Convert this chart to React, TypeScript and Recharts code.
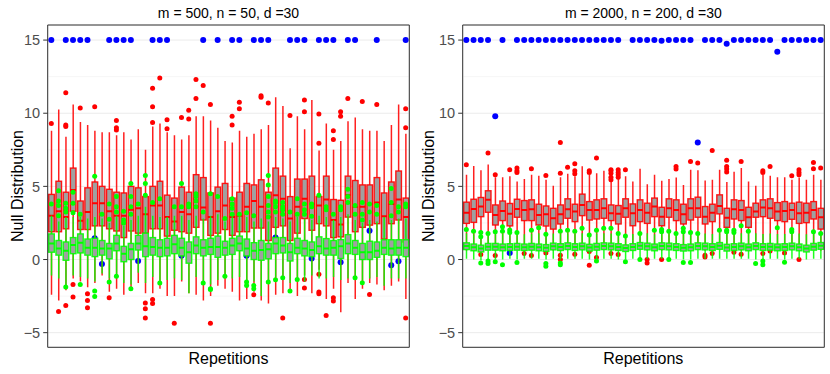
import React from 'react';
import { ComposedChart, Bar, Scatter, XAxis, YAxis, CartesianGrid, ReferenceArea } from 'recharts';

const REPS = [
  1, 2, 3, 4, 5, 6, 7, 8, 9, 10, 11, 12, 13, 14, 15, 16, 17, 18, 19, 20, 21, 22, 23, 24, 25,
  26, 27, 28, 29, 30, 31, 32, 33, 34, 35, 36, 37, 38, 39, 40, 41, 42, 43, 44, 45, 46, 47, 48, 49, 50,
];
const Y_TICKS = [-5, 0, 5, 10, 15];
const Y_MINOR = [-2.5, 2.5, 7.5, 12.5];
const Y_DOMAIN: [number, number] = [-6, 16.03];

// ---- left panel: m = 500, n = 50 ----
const L_RED_LO = [-2.4, -2.8, -2.1, -1.3, -1.5, -1.9, -1.6, -1.1, -2.2, -2.0, -2.4, -2.0, -1.6, -2.3, -2.3, -2.0, -2.5, -2.5, -1.5, -2.3, -2.4, -2.8, -2.5, -1.8, -2.0, -2.2, -2.8, -2.7, -2.2, -2.8, -3.0, -2.4, -2.3, -2.2, -2.5, -1.1, -2.3, -0.7, -2.7, -2.0, -3.6, -1.6, -2.7, -2.0, -1.6, -1.7, -2.1, -1.8, -1.5, -2.7];
const L_RED_Q1 = [1.9, 1.9, 2.1, 3.3, 2.05, 2.05, 2.3, 2.3, 2.1, 1.95, 1.5, 1.95, 1.8, 1.8, 2.1, 2.1, 1.6, 2.0, 1.9, 1.8, 2.2, 2.7, 1.65, 1.8, 2.05, 1.65, 1.9, 1.9, 2.15, 2.15, 1.3, 2.2, 2.3, 1.3, 1.8, 2.8, 2.0, 2.45, 2.3, 1.5, 1.55, 2.9, 1.9, 2.2, 2.35, 2.45, 1.4, 2.45, 2.7, 1.2];
const L_RED_MED = [3.0, 3.3, 2.9, 4.75, 2.65, 3.25, 3.85, 3.85, 3.3, 3.0, 3.0, 3.4, 3.5, 3.1, 3.7, 3.7, 2.9, 2.6, 3.25, 3.1, 3.6, 3.55, 2.9, 3.3, 3.7, 2.9, 3.0, 3.6, 4.0, 3.6, 2.9, 4.4, 4.15, 2.8, 3.6, 4.15, 3.8, 3.7, 4.1, 2.7, 2.4, 4.4, 3.6, 3.6, 3.8, 3.9, 2.95, 3.8, 4.1, 2.9];
const L_RED_Q3 = [4.45, 5.35, 4.6, 6.25, 4.0, 4.9, 5.3, 5.0, 4.8, 4.6, 4.55, 5.0, 4.9, 4.3, 5.0, 5.35, 4.4, 4.2, 4.95, 4.6, 5.8, 5.6, 4.55, 4.95, 5.2, 4.2, 4.6, 5.2, 5.1, 5.45, 4.6, 6.25, 5.7, 4.3, 5.5, 5.5, 5.7, 4.3, 5.7, 4.1, 4.05, 5.7, 5.4, 5.1, 5.1, 5.6, 4.55, 5.3, 6.05, 4.2];
const L_RED_HI = [8.8, 10.25, 8.4, 10.6, 9.4, 9.2, 8.8, 8.7, 8.7, 8.5, 8.7, 8.2, 8.9, 7.5, 9.1, 9.3, 8.7, 8.5, 8.2, 8.5, 9.8, 9.8, 9.5, 9.0, 8.1, 8.0, 8.8, 8.4, 8.6, 8.9, 9.2, 11.1, 10.5, 7.6, 9.8, 8.9, 10.9, 7.45, 9.3, 7.5, 8.1, 9.45, 9.7, 8.9, 8.8, 8.8, 8.1, 9.2, 10.6, 8.6];

const L_GRN_LO = [-1.1, -1.3, -1.75, -1.1, -1.2, -1.3, -1.5, -0.95, -1.3, -1.0, -1.6, -1.7, -0.9, -1.6, -1.2, -1.5, -1.4, -1.3, -1.4, -2.3, -1.2, -1.5, -1.7, -1.4, -1.0, -1.3, -1.2, -1.4, -1.5, -2.5, -1.4, -1.2, -1.1, -1.6, -1.2, -1.5, -1.1, -1.3, -1.3, -1.2, -1.4, -1.3, -1.1, -1.4, -1.3, -1.2, -1.8, -1.3, -1.3, -1.3];
const L_GRN_Q1 = [0.5, 0.3, -0.05, 0.4, 0.45, 0.3, 0.2, 0.3, 0.05, 0.6, -0.15, 0.0, 0.65, 0.2, 0.3, 0.2, 0.25, 0.4, 0.25, -0.25, 0.4, 0.25, 0.35, 0.15, 0.3, 0.35, 0.6, 0.25, 0.0, -0.05, 0.05, 0.4, 0.45, -0.1, 0.4, 0.25, 0.2, 0.4, 0.3, 0.3, 0.07, 0.4, 0.35, 0.0, 0.0, 0.15, 0.35, 0.3, 0.3, 0.2];
const L_GRN_MED = [1.1, 0.75, 0.6, 1.0, 1.15, 0.8, 0.8, 0.75, 0.75, 1.1, 0.4, 0.7, 1.1, 0.9, 0.85, 0.8, 0.8, 1.05, 0.8, 0.5, 0.95, 0.8, 0.85, 0.85, 0.8, 0.95, 1.1, 0.75, 0.6, 0.65, 0.7, 1.1, 0.95, 0.5, 0.8, 0.75, 0.65, 0.9, 0.75, 0.8, 0.9, 1.1, 0.8, 0.5, 0.5, 0.6, 0.8, 0.75, 0.8, 0.8];
const L_GRN_Q3 = [1.75, 1.3, 1.2, 1.5, 1.75, 1.4, 1.45, 1.3, 1.1, 1.65, 0.9, 1.1, 1.65, 1.8, 1.5, 1.35, 1.45, 1.65, 1.45, 1.2, 1.55, 1.35, 1.45, 1.6, 1.25, 1.45, 1.6, 1.4, 1.15, 1.3, 1.1, 1.5, 1.5, 1.1, 1.45, 1.3, 1.2, 1.55, 1.43, 1.3, 1.36, 1.7, 1.3, 1.1, 1.25, 1.2, 1.35, 1.35, 1.35, 1.35];
const L_GRN_HI = [3.0, 2.6, 2.9, 2.9, 2.9, 2.8, 2.9, 2.8, 2.5, 3.0, 2.3, 2.7, 3.0, 3.6, 3.0, 2.9, 2.9, 3.0, 3.0, 2.7, 3.0, 2.8, 3.0, 3.1, 2.6, 2.9, 2.9, 2.9, 2.6, 2.8, 2.6, 2.9, 2.8, 2.6, 2.9, 2.8, 2.7, 3.0, 2.9, 2.7, 2.9, 3.1, 2.7, 2.5, 2.7, 2.6, 2.9, 2.7, 2.8, 2.8];

const L_BLUE = [15, null, 15, 15, 15, 15, 1.45, -0.3, 15, 15, 15, 15, -0.1, null, 15, 15, 15, null, 0.25, null, 2.5, 15, null, 15, null, 15, 15, 0.25, 15, 15, 15, 1.5, null, 15, 15, 15, 0.07, 15, 15, 15, -0.18, 15, 15, 0.18, 1.97, 15, null, -0.4, -0.12, 15];

// [repetition, value]
const L_RED_OUT = [
  [1, 9.3], [2, -3.56], [3, 11.4], [3, 9.2], [3, 9.1], [3, -3.14], [4, -1.7], [4, -2.57], [5, 10.35],
  [6, -2.34], [6, -2.8], [6, -3.3], [7, 10.45], [9, -2.62], [10, 9.5], [10, 9.0], [10, 8.85],
  [14, -2.98], [14, -3.37], [14, -4.0], [15, 11.7], [15, 10.45], [15, 9.36], [15, -2.73], [15, -3.0],
  [16, 12.4], [17, 9.56], [17, 8.93], [18, -4.35], [19, 9.7], [20, 10.2], [20, 9.6], [21, 12.3], [21, 11.0],
  [22, 11.9], [23, 10.6], [23, -4.35], [26, 9.8], [26, 9.2], [27, 10.75], [27, 10.3], [29, -2.41],
  [30, 11.2], [30, 11.1], [31, 10.7], [33, -3.99], [34, 9.85], [36, 10.9], [36, 10.1], [36, -1.36], [36, -1.95],
  [38, 9.95], [38, 7.95], [38, -1.0], [38, -2.22], [38, -2.34], [39, -3.83], [40, 8.8], [40, 8.2], [40, -2.62],
  [40, -2.84], [41, 10.1], [41, 9.8], [42, 11.0], [44, 10.8], [45, -2.39], [46, 10.6], [50, 10.3], [50, 9.0], [50, -3.99],
];
const L_GRN_OUT = [
  [1, 3.8], [2, 4.7], [2, 4.0], [2, 3.7], [2, 3.0], [3, 3.85], [3, 3.5], [3, 3.25], [3, -1.88], [4, 4.6], [4, 3.85], [4, 3.2],
  [5, 3.1], [5, -1.7], [7, 5.7], [7, -2.16], [7, -2.52], [8, 3.1], [9, 3.8], [9, 2.75], [9, -1.54],
  [10, 4.3], [10, 3.6], [10, 3.25], [10, -1.15], [11, 3.3], [11, 2.7], [11, 2.5], [12, 5.2], [12, 4.3], [12, 3.6], [12, 3.1], [12, -1.99],
  [13, 3.8], [14, 5.75], [14, 5.2], [14, 4.4], [15, 3.9], [16, 4.15], [16, -1.6], [18, 3.6], [19, 5.2], [19, 3.6],
  [20, 3.8], [20, 3.6], [21, 4.5], [21, 4.3], [21, 4.0], [21, 3.6], [22, 3.25], [22, -1.6], [23, 4.5], [23, -1.99], [23, -2.05],
  [24, 4.3], [25, 2.8], [25, -1.15], [26, 4.15], [26, 3.8], [26, 3.5], [26, 3.1], [27, 3.1], [28, 3.2], [28, -1.54], [28, -1.77],
  [29, 3.0], [29, -1.77], [29, -2.0], [31, 5.75], [31, 5.1], [31, 4.3], [31, 3.7], [31, 3.25], [31, 2.9], [31, -1.54],
  [32, 4.0], [32, 3.9], [32, 3.6], [32, 3.25], [32, -1.38], [33, 3.9], [33, 3.6], [33, 3.4], [33, 3.1], [33, -1.24],
  [34, 3.25], [34, -2.16], [35, 4.15], [35, 3.1], [35, -1.36], [36, 3.8], [36, 3.4], [36, 3.1], [37, 3.8], [37, 3.6], [37, 2.95],
  [38, 4.4], [39, 3.6], [39, 3.4], [40, 3.1], [41, 3.6], [41, 3.4], [42, 4.8], [42, 4.3], [42, 3.9], [43, 3.7], [43, 3.1], [43, -1.24],
  [44, 3.9], [44, 3.1], [44, 2.7], [44, -1.58], [45, 3.8], [45, 3.25], [46, 3.7], [46, 3.1], [48, 4.85], [48, 3.9], [48, 3.0],
  [49, 3.6], [49, 3.25], [50, 3.8], [50, 3.6],
];

// ---- right panel: m = 2000, n = 200 ----
const R_RED_LO = [0.6, 0.7, 0.6, 0.8, 0.6, 0.7, 0.6, 0.7, 0.7, 0.6, 0.7, 0.7, 0.6, 0.6, 0.8, 0.6, 0.8, 0.7, 0.6, 0.8, 0.6, 0.6, 0.8, 0.6, 0.7, 0.6, 0.8, 0.6, 0.8, 0.7, 0.6, 0.7, 0.8, 0.6, 0.6, 0.9, 0.6, 0.7, 0.6, 0.6, 0.8, 0.8, 0.7, 0.7, 0.7, 0.7, 0.6, 0.7, 0.7, 0.6];
const R_RED_Q1 = [2.47, 2.54, 2.93, 3.23, 2.36, 2.66, 2.3, 2.89, 2.66, 2.66, 2.36, 2.29, 2.08, 2.43, 2.82, 2.59, 3.0, 2.7, 2.77, 2.82, 2.66, 2.43, 2.89, 2.31, 2.59, 2.47, 2.93, 2.31, 2.89, 2.66, 2.43, 2.7, 2.89, 2.43, 2.59, 3.12, 2.2, 2.77, 2.66, 2.2, 2.89, 2.93, 2.82, 2.66, 2.59, 2.75, 2.47, 2.52, 2.77, 2.08];
const R_RED_MED = [3.2, 3.46, 3.62, 4.08, 3.05, 3.32, 3.12, 3.46, 3.39, 3.44, 3.05, 3.1, 2.82, 3.1, 3.44, 3.28, 3.73, 3.39, 3.39, 3.5, 3.16, 3.12, 3.5, 3.16, 3.39, 3.2, 3.62, 2.93, 3.5, 3.39, 3.1, 3.5, 3.5, 2.93, 3.2, 3.66, 2.86, 3.44, 3.39, 2.89, 3.28, 3.55, 3.5, 3.28, 3.32, 3.39, 3.16, 3.2, 3.39, 2.89];
const R_RED_Q3 = [3.92, 4.12, 4.24, 4.7, 3.73, 4.0, 3.83, 4.12, 4.03, 4.08, 3.78, 3.66, 3.5, 3.73, 4.15, 3.78, 4.47, 3.96, 4.08, 4.15, 3.73, 3.69, 4.15, 3.8, 4.08, 3.85, 4.2, 3.57, 4.15, 4.08, 3.78, 4.15, 4.26, 3.62, 3.78, 4.42, 3.5, 4.08, 4.03, 3.57, 3.85, 4.08, 4.15, 3.89, 3.96, 3.85, 3.92, 3.85, 3.96, 3.5];
const R_RED_HI = [5.8, 6.4, 6.1, 6.5, 5.63, 5.63, 5.7, 5.34, 5.5, 5.8, 5.73, 5.45, 5.04, 5.63, 5.86, 5.7, 6.37, 5.8, 5.9, 6.07, 5.3, 5.5, 5.7, 5.34, 6.2, 5.15, 5.8, 5.38, 5.5, 5.6, 5.1, 6.14, 6.1, 5.4, 5.45, 6.14, 5.3, 6.0, 6.25, 5.34, 5.04, 5.8, 5.73, 5.63, 5.63, 5.45, 5.6, 5.45, 5.8, 5.45];

const R_GRN_LO = [0.05, 0.0, -0.05, 0.0, 0.0, 0.0, 0.05, 0.0, 0.05, 0.05, 0.05, 0.0, 0.05, 0.0, 0.05, 0.05, 0.05, 0.0, 0.0, 0.05, 0.05, 0.0, 0.0, 0.05, 0.05, 0.05, 0.05, 0.05, 0.05, 0.05, 0.0, 0.0, 0.05, 0.05, 0.05, 0.05, 0.05, 0.05, 0.05, 0.05, 0.0, 0.0, 0.05, 0.05, 0.0, 0.05, 0.05, 0.0, 0.05, 0.05];
const R_GRN_Q1 = [0.68, 0.6, 0.52, 0.64, 0.64, 0.6, 0.62, 0.64, 0.62, 0.64, 0.6, 0.56, 0.66, 0.62, 0.68, 0.62, 0.66, 0.58, 0.64, 0.68, 0.66, 0.62, 0.55, 0.62, 0.7, 0.66, 0.6, 0.68, 0.66, 0.62, 0.58, 0.6, 0.68, 0.66, 0.62, 0.7, 0.58, 0.62, 0.66, 0.6, 0.68, 0.62, 0.64, 0.6, 0.62, 0.66, 0.6, 0.52, 0.64, 0.7];
const R_GRN_MED = [0.92, 0.84, 0.76, 0.88, 0.88, 0.84, 0.86, 0.88, 0.84, 0.88, 0.84, 0.8, 0.9, 0.86, 0.92, 0.86, 0.9, 0.82, 0.88, 0.92, 0.9, 0.86, 0.78, 0.86, 0.94, 0.9, 0.84, 0.92, 0.9, 0.86, 0.8, 0.84, 0.92, 0.9, 0.86, 0.94, 0.82, 0.86, 0.9, 0.84, 0.92, 0.86, 0.88, 0.84, 0.86, 0.9, 0.84, 0.76, 0.88, 0.94];
const R_GRN_Q3 = [1.14, 1.06, 0.98, 1.1, 1.1, 1.06, 1.08, 1.1, 1.06, 1.1, 1.06, 1.02, 1.12, 1.08, 1.14, 1.08, 1.12, 1.04, 1.1, 1.14, 1.12, 1.08, 1.0, 1.08, 1.16, 1.12, 1.06, 1.14, 1.12, 1.08, 1.02, 1.06, 1.14, 1.12, 1.08, 1.16, 1.04, 1.08, 1.12, 1.06, 1.14, 1.08, 1.1, 1.06, 1.08, 1.12, 1.06, 0.98, 1.1, 1.16];
const R_GRN_HI = [1.8, 1.72, 1.5, 1.72, 1.75, 1.75, 1.75, 1.75, 1.72, 1.78, 1.8, 1.65, 1.78, 1.75, 1.8, 1.75, 1.8, 1.62, 1.78, 1.8, 1.78, 1.72, 1.55, 1.75, 1.72, 1.8, 1.72, 1.8, 1.8, 1.72, 1.8, 1.78, 1.72, 1.78, 1.75, 1.8, 1.78, 1.78, 1.8, 1.8, 1.8, 1.75, 1.78, 1.75, 1.75, 1.8, 1.78, 1.72, 1.8, 1.72];

const R_BLUE = [15, 15, 15, 15, 9.8, 15, 0.45, 15, 15, 15, 15, 15, 15, 15, 15, 15, 15, 15, 15, 15, 15, 15, null, 15, 15, 15, 15, 14.95, 15, 15, 15, 15, 8.0, 15, 15, 15, 14.75, 15, 15, 15, 15, 15, 15, 14.2, 15, 15, 15, 15, 15, 15];

const R_RED_OUT = [
  [1, 6.48], [3, 0.34], [4, 7.28], [5, 5.8], [5, 0.27], [7, 6.14], [8, 6.25], [8, 6.07], [8, 5.95], [9, 0.41],
  [10, 6.2], [10, 0.27], [12, 5.75], [12, 0.45], [14, 8.0], [14, 5.9], [14, 0.3], [14, 0.0], [15, 6.3],
  [16, 6.55], [16, 6.07], [16, 5.86], [16, 0.36], [18, 6.07], [18, 5.95], [18, 0.55], [18, -0.39], [19, 6.94], [19, 0.13],
  [21, 6.14], [21, 6.07], [21, 5.9], [21, 5.63], [21, 5.45], [21, 0.41], [22, 6.14], [22, 5.95], [22, 5.8], [22, 5.63], [22, 0.34],
  [23, 6.14], [26, 0.0], [26, -0.23], [28, 0.0], [30, 6.36], [30, 6.18], [32, 6.7], [33, 6.6], [34, 0.3], [34, 0.18],
  [35, 7.45], [35, 0.41], [37, 6.78], [37, 6.36], [37, 6.18], [37, 5.98], [38, 0.5], [39, 6.7], [39, 0.36],
  [42, 6.07], [42, 5.95], [42, 0.41], [43, 6.36], [43, 0.59], [45, 0.45], [46, 5.72], [47, 6.14], [47, 5.95], [47, 5.8], [47, 0.0],
  [49, 6.64], [49, 6.2], [50, 6.25],
];
const R_GRN_OUT = [
  [1, 2.06], [2, 1.94], [3, 1.85], [3, 1.56], [4, 1.78], [5, 1.9], [6, 2.24], [6, 1.94], [7, 2.01], [7, 1.85], [8, 1.85],
  [10, 2.0], [11, 2.17], [12, 1.72], [14, 1.94], [15, 2.0], [16, 1.94], [17, 2.13], [18, 1.67], [19, 2.0], [20, 2.13],
  [21, 2.13], [22, 1.78], [23, 1.6], [25, 1.78], [27, 2.0], [28, 2.06], [28, 1.9], [29, 1.94], [30, 1.78], [31, 2.13], [31, 1.9],
  [32, 1.85], [33, 1.78], [36, 2.0], [37, 2.0], [37, 1.9], [38, 2.0], [38, 1.85], [39, 2.3], [40, 1.94], [44, 2.17],
  [46, 2.06], [46, 1.9], [49, 1.9], [50, 1.78],
  [3, -0.23], [4, -0.1], [4, -0.28], [5, -0.16], [6, -0.35], [8, -0.21], [12, -0.28], [12, -0.46], [14, -0.23], [14, -0.35],
  [19, -0.1], [23, -0.16], [25, 0.0], [29, 0.0], [31, -0.21], [32, -0.21], [41, -0.28], [42, -0.1], [42, -0.35], [45, -0.19],
];

const FONT = '"Liberation Sans", Arial, Helvetica, sans-serif';
const RED = '#FF0000';
const GREEN = '#00FF00';
const BLUE = '#0000FF';
const BOX_FILL = '#A0A0A0';

function makeRows(r: number[][], g: number[][]) {
  return REPS.map((rep, i) => ({
    rep,
    rLo: r[0][i], rQ1: r[1][i], rMed: r[2][i], rQ3: r[3][i], rHi: r[4][i],
    gLo: g[0][i], gQ1: g[1][i], gMed: g[2][i], gQ3: g[3][i], gHi: g[4][i],
  }));
}

const toPoints = (pairs: number[][]) => pairs.map(([rep, val]) => ({ rep, val }));
const bluePoints = (vals: (number | null)[]) =>
  REPS.map((rep, i) => ({ rep, val: vals[i] })).filter((d) => d.val != null);

const LEFT_ROWS = makeRows(
  [L_RED_LO, L_RED_Q1, L_RED_MED, L_RED_Q3, L_RED_HI],
  [L_GRN_LO, L_GRN_Q1, L_GRN_MED, L_GRN_Q3, L_GRN_HI],
);
const RIGHT_ROWS = makeRows(
  [R_RED_LO, R_RED_Q1, R_RED_MED, R_RED_Q3, R_RED_HI],
  [R_GRN_LO, R_GRN_Q1, R_GRN_MED, R_GRN_Q3, R_GRN_HI],
);

// draws whiskers + box + median inside the [lo, hi] range bar that recharts positions
const BoxShape = (props: any) => {
  const { x, y, width, height, payload, pre, color } = props;
  const lo = payload[pre + 'Lo'];
  const q1 = payload[pre + 'Q1'];
  const med = payload[pre + 'Med'];
  const q3 = payload[pre + 'Q3'];
  const hi = payload[pre + 'Hi'];
  if (lo == null || hi == null || !height) return null;
  const top = Math.min(y, y + height);
  const k = Math.abs(height) / (hi - lo);
  const py = (v: number) => top + (hi - v) * k;
  const cx = x + width / 2;
  return (
    <g>
      <line x1={cx} x2={cx} y1={py(hi)} y2={py(q3)} stroke={color} strokeWidth={1.5} strokeOpacity={0.88} />
      <line x1={cx} x2={cx} y1={py(q1)} y2={py(lo)} stroke={color} strokeWidth={1.5} strokeOpacity={0.88} />
      <rect x={x} y={py(q3)} width={width} height={py(q1) - py(q3)} fill={BOX_FILL} stroke={color} strokeWidth={1.4} strokeOpacity={0.9} />
      <line x1={x} x2={x + width} y1={py(med)} y2={py(med)} stroke={color} strokeWidth={2} />
    </g>
  );
};

const dot = (r: number, fill: string) => (p: any) =>
  p.cx == null || p.cy == null ? <g /> : <circle cx={p.cx} cy={p.cy} r={r} fill={fill} />;

const fmtTick = (v: number) => (v < 0 ? `\u2212${-v}` : `${v}`);

const Panel = ({ rows, blue, redOut, grnOut }: any) => (
  <ComposedChart width={415} height={374} data={rows} margin={{ top: 25, right: 5.7, bottom: 25.7, left: 0 }}>
    <CartesianGrid xAxisId="r" stroke="#EBEBEB" strokeWidth={1} />
    <CartesianGrid xAxisId="r" vertical={false} horizontalValues={Y_MINOR} stroke="#F0F0F0" strokeWidth={0.6} />
    <XAxis xAxisId="r" dataKey="rep" type="number" domain={[0.5, 50.5]} allowDataOverflow ticks={REPS} interval={0}
      tick={false} tickLine={false} axisLine={false} height={1} />
    <XAxis xAxisId="g" dataKey="rep" type="number" domain={[0.5, 50.5]} allowDataOverflow ticks={REPS} interval={0} hide />
    <YAxis type="number" domain={Y_DOMAIN} allowDataOverflow ticks={Y_TICKS} interval={0} width={47.7}
      tickSize={4.5} tickMargin={3} axisLine={false} tickLine={{ stroke: '#333333' }}
      tick={{ fill: '#4D4D4D', fontSize: 14.5, fontFamily: FONT }} tickFormatter={fmtTick} />
    <Scatter xAxisId="r" data={blue} dataKey="val" shape={dot(3, BLUE)} isAnimationActive={false} zIndex={290} />
    <Bar xAxisId="r" dataKey={(d: any) => [d.rLo, d.rHi]} barSize={5.6} isAnimationActive={false} zIndex={300}
      shape={(p: any) => <BoxShape {...p} pre="r" color={RED} />} />
    <Scatter xAxisId="r" data={redOut} dataKey="val" shape={dot(2.5, RED)} isAnimationActive={false} zIndex={310} />
    <Bar xAxisId="g" dataKey={(d: any) => [d.gLo, d.gHi]} barSize={5.6} isAnimationActive={false} zIndex={320}
      shape={(p: any) => <BoxShape {...p} pre="g" color={GREEN} />} />
    <Scatter xAxisId="g" data={grnOut} dataKey="val" shape={dot(2.5, GREEN)} isAnimationActive={false} zIndex={330} />
    <ReferenceArea xAxisId="r" y1={Y_DOMAIN[0]} y2={Y_DOMAIN[1]} fill="none" stroke="#333333" strokeWidth={1}
      ifOverflow="visible" zIndex={700} />
  </ComposedChart>
);

export default function App() {
  return (
    <div style={{ position: 'relative', width: 830, height: 374, background: '#fff', fontFamily: FONT }}>
      <style>{'body{margin:0}'}</style>
      <div style={{ position: 'absolute', left: 0, top: 0 }}>
        <Panel rows={LEFT_ROWS} blue={bluePoints(L_BLUE)} redOut={toPoints(L_RED_OUT)} grnOut={toPoints(L_GRN_OUT)} />
      </div>
      <div style={{ position: 'absolute', left: 415, top: 0 }}>
        <Panel rows={RIGHT_ROWS} blue={bluePoints(R_BLUE)} redOut={toPoints(R_RED_OUT)} grnOut={toPoints(R_GRN_OUT)} />
      </div>
      <svg width={830} height={374} style={{ position: 'absolute', left: 0, top: 0, pointerEvents: 'none' }}>
        <g fontFamily={FONT} fill="#000">
          <text x={228.5} y={17.5} fontSize={14} textAnchor="middle">m = 500, n = 50, d =30</text>
          <text x={643.3} y={17.5} fontSize={14} textAnchor="middle">m = 2000, n = 200, d =30</text>
          <text x={228.5} y={364} fontSize={16} textAnchor="middle">Repetitions</text>
          <text x={643.3} y={364} fontSize={16} textAnchor="middle">Repetitions</text>
          <text transform="translate(22.5,186) rotate(-90)" fontSize={16} textAnchor="middle">Null Distribution</text>
          <text transform="translate(434,186) rotate(-90)" fontSize={16} textAnchor="middle">Null Distribution</text>
        </g>
      </svg>
    </div>
  );
}
